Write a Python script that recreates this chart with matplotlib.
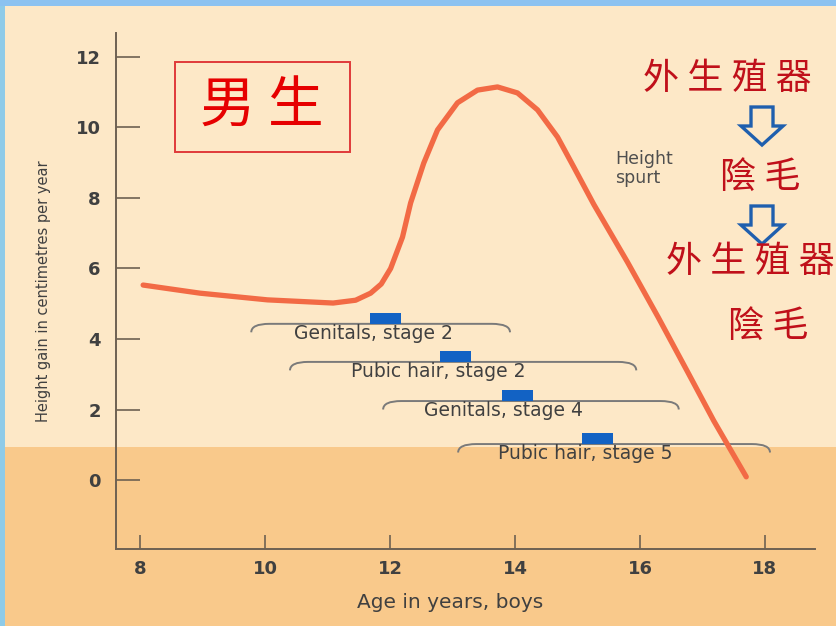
import matplotlib
matplotlib.use("Agg")
import matplotlib.pyplot as plt
from matplotlib.patches import Rectangle, PathPatch, Polygon
from matplotlib.path import Path

# growth velocity curve, boys (age in years, cm per year)
age = [8.05, 8.96, 10.04, 11.09, 11.45, 11.69, 11.86, 12.01, 12.20, 12.33, 12.54, 12.76,
       13.08, 13.40, 13.72, 14.04, 14.36, 14.68, 14.94, 15.26, 15.80,
       16.29, 16.77, 17.18, 17.70]
gain = [5.53, 5.30, 5.11, 5.02, 5.10, 5.30, 5.56, 6.00, 6.89, 7.86, 8.99, 9.93,
        10.70, 11.06, 11.15, 10.98, 10.50, 9.73, 8.88, 7.82, 6.18,
        4.62, 3.04, 1.68, 0.09]

# puberty stages: bracket range, bar position
stage_names = ["Genitals, stage 2", "Pubic hair, stage 2", "Genitals, stage 4", "Pubic hair, stage 5"]
bracket_start = [9.78, 10.40, 11.89, 13.09]
bracket_end = [13.92, 15.94, 16.62, 18.08]
bracket_level = [4.43, 3.35, 2.24, 1.02]
bar_start = [11.68, 12.80, 13.79, 15.07]
label_x = [11.74, 12.77, 13.82, 15.12]

x_ticks = [8, 10, 12, 14, 16, 18]
y_ticks = [0, 2, 4, 6, 8, 10, 12]

W, H = 836, 626
UPPER = "#fde8c7"
LOWER = "#f9c98b"
TEXT = "#404040"
CJK = ["Noto Sans CJK TC", "DejaVu Sans"]


def px(x, y):
    return x / W, 1 - y / H


fig = plt.figure(figsize=(W / 100, H / 100), dpi=100)
fig.patch.set_facecolor(UPPER)

# slide background bands
fig.add_artist(Rectangle((0, 0), 1, 1 - 447 / H, transform=fig.transFigure,
                         facecolor=LOWER, edgecolor="none", zorder=-5))
fig.add_artist(Rectangle((0, 0), 5 / W, 1, transform=fig.transFigure,
                         facecolor="#8fcbe8", edgecolor="none", zorder=-4))
fig.add_artist(Rectangle((0, 1 - 6 / H), 1, 6 / H, transform=fig.transFigure,
                         facecolor="#8cc2f0", edgecolor="none", zorder=-4))

l, t = px(116, 33)
r, b = px(815, 549)
ax = fig.add_axes([l, b, r - l, t - b])
ax.set_facecolor("none")
ax.set_xlim(7.616, 18.8)
ax.set_ylim(-1.957, 12.68)

for side in ["top", "right"]:
    ax.spines[side].set_visible(False)
for side in ["left", "bottom"]:
    ax.spines[side].set_color("#6e6152")
    ax.spines[side].set_linewidth(1.4)

ax.set_xticks(x_ticks)
ax.set_yticks(y_ticks)
ax.tick_params(axis="y", direction="in", length=17, width=1.2, color="#6e6152", pad=11)
ax.tick_params(axis="x", direction="in", length=10, width=1.2, color="#6e6152", pad=8)
for lab in ax.get_xticklabels() + ax.get_yticklabels():
    lab.set_fontsize(13)
    lab.set_fontweight("bold")
    lab.set_color(TEXT)

ax.plot(age, gain, color="#f26a45", lw=3.8, solid_capstyle="round",
        solid_joinstyle="round", zorder=4)

# stage brackets with blue markers
dx, dy = 0.29, 0.24
for name, x0, x1, yl, bx, tx in zip(stage_names, bracket_start, bracket_end,
                                     bracket_level, bar_start, label_x):
    verts = [(x0, yl - dy), (x0, yl), (x0 + dx, yl), (x1 - dx, yl), (x1, yl), (x1, yl - dy)]
    codes = [Path.MOVETO, Path.CURVE3, Path.CURVE3, Path.LINETO, Path.CURVE3, Path.CURVE3]
    ax.add_patch(PathPatch(Path(verts, codes), facecolor="none", edgecolor="#7a7a7a",
                           lw=1.4, zorder=3))
    ax.add_patch(Rectangle((bx, yl), 0.5, 0.31, facecolor="#1262c4", edgecolor="none", zorder=3))
    ax.text(tx, yl - 0.27, name, ha="center", va="center", fontsize=13.5,
            color=TEXT, zorder=3)

ax.set_xlabel("Age in years, boys", fontsize=14.5, color=TEXT, labelpad=14)
ax.xaxis.set_label_coords(0.478, -0.085)
ax.set_ylabel("Height gain in centimetres per year", fontsize=10.5, color=TEXT, labelpad=18)

fig.text(*px(615, 150), "Height\nspurt", ha="left", va="top", fontsize=12.5,
         color="#4f4f4f", linespacing=1.1)

# boxed title
bx0, by0 = px(175, 152)
bx1, by1 = px(350, 62)
fig.add_artist(Rectangle((bx0, by0), bx1 - bx0, by1 - by0, transform=fig.transFigure,
                         facecolor="none", edgecolor="#e03a3a", lw=1.4))
fig.text(*px(262, 107), "男 生", ha="center", va="center", fontsize=40,
         color="#e60000", family=CJK)

# right-side notes
red = "#c0101a"
fig.text(*px(727, 79), "外 生 殖 器", ha="center", va="center", fontsize=26, color=red, family=CJK)
fig.text(*px(760, 178), "陰 毛", ha="center", va="center", fontsize=26, color=red, family=CJK)
fig.text(*px(750, 262), "外 生 殖 器", ha="center", va="center", fontsize=26, color=red, family=CJK)
fig.text(*px(768, 327), "陰 毛", ha="center", va="center", fontsize=26, color=red, family=CJK)

for top in [107, 206]:
    shape = [(751, top), (773, top), (773, top + 19), (783, top + 19), (762, top + 38),
             (741, top + 19), (751, top + 19)]
    fig.add_artist(Polygon([px(x, y) for x, y in shape], closed=True, transform=fig.transFigure,
                           facecolor="none", edgecolor="#1f5fae", lw=2.4, joinstyle="miter"))

fig.savefig("out.png", dpi=100, facecolor=fig.get_facecolor())
